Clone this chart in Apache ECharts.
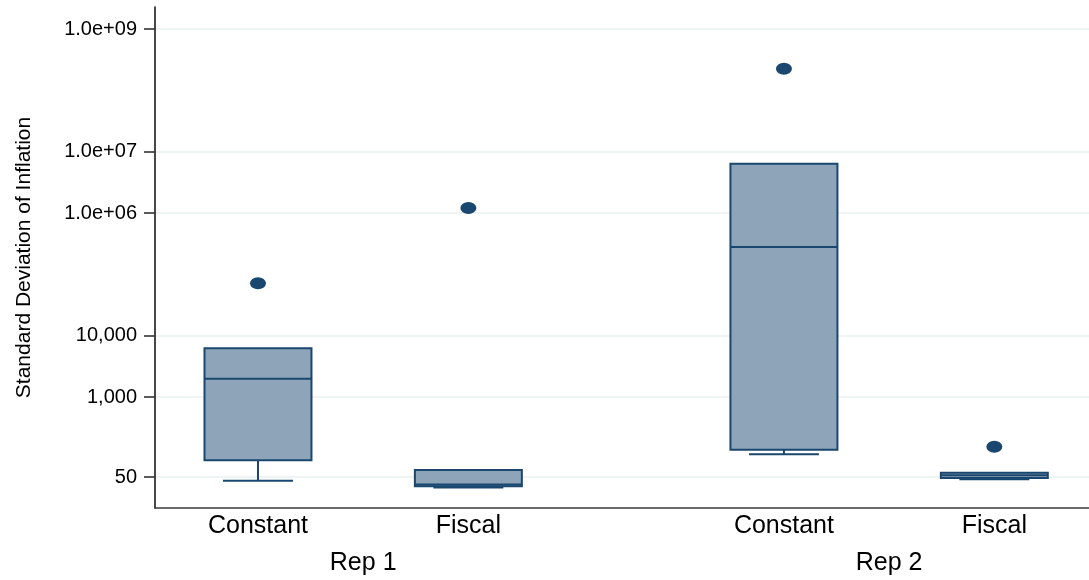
<!DOCTYPE html>
<html>
<head>
<meta charset="utf-8">
<script src="https://cdn.jsdelivr.net/npm/echarts@6/dist/echarts.min.js"></script>
<style>
html,body{margin:0;padding:0;background:#ffffff;}
#chart{width:1089px;height:580px;}
</style>
</head>
<body>
<div id="chart"></div>
<script>
// ---------------- data ----------------
const groups = ['Rep 1', 'Rep 2'];
const treatments = ['Constant', 'Fiscal'];
// five-number summaries: [min, Q1, median, Q3, max]
const rep1Constant = [43.5, 93.5, 2000, 6250, 6250];
const rep1Fiscal = [33.7, 35.4, 37.7, 65, 65];
const rep2Constant = [117, 139, 280000, 6360000, 6360000];
const rep2Fiscal = [46, 48.2, 53.4, 58.7, 58.7];
// outside values
const rep1ConstantOutliers = [71700];
const rep1FiscalOutliers = [1210000];
const rep2ConstantOutliers = [225000000];
const rep2FiscalOutliers = [156];
// y-axis ticks
const yTickValues = [50, 1000, 10000, 1e6, 1e7, 1e9];
const yTickLabels = ['50', '1,000', '10,000', '1.0e+06', '1.0e+07', '1.0e+09'];
const yTitle = 'Standard Deviation of Inflation';

// ---------------- layout / styles ----------------
const NAVY = '#1a476f';
const FILL = '#8ea5b9';
const FONT = '"Liberation Sans", Arial, Helvetica, sans-serif';
const BOX_W = 1.017;   // box width in x units
const CAP_W = 0.665;   // whisker cap width in x units
const X_MIN = -0.979, X_MAX = 7.9;
const Y_MIN = 15.63, Y_MAX = 2.283e9;

const summaries = [[rep1Constant, rep1Fiscal], [rep2Constant, rep2Fiscal]];
const outliers = [[rep1ConstantOutliers, rep1FiscalOutliers], [rep2ConstantOutliers, rep2FiscalOutliers]];

function slot(g, t) { return g * 5 + t * 2; }

const boxData = [];
const outlierData = [];
const slotPositions = [];
const slotLabel = {};
const groupCenters = [];
const groupLabel = {};
groups.forEach(function (gName, g) {
  const c = slot(g, 0) + 1;
  groupCenters.push(c);
  groupLabel[c] = gName;
  treatments.forEach(function (tName, t) {
    const x = slot(g, t);
    slotPositions.push(x);
    slotLabel[x] = tName;
    boxData.push([x].concat(summaries[g][t]));
    outliers[g][t].forEach(function (v) { outlierData.push([x, v]); });
  });
});

function yLabel(v) {
  let best = 0, bd = Infinity;
  yTickValues.forEach(function (tv, i) {
    const d = Math.abs(Math.log10(tv) - Math.log10(v));
    if (d < bd) { bd = d; best = i; }
  });
  return yTickLabels[best];
}
function nearestKey(map, v) {
  let best = null, bd = Infinity;
  Object.keys(map).forEach(function (k) {
    const d = Math.abs(+k - v);
    if (d < bd) { bd = d; best = k; }
  });
  return map[best];
}

function renderBox(params, api) {
  const x = api.value(0);
  const mn = api.value(1), q1 = api.value(2), md = api.value(3), q3 = api.value(4), mx = api.value(5);
  const unit = api.size([1, 0], [x, md])[0];
  const hb = unit * BOX_W / 2, hc = unit * CAP_W / 2;
  const pQ1 = api.coord([x, q1]), pQ3 = api.coord([x, q3]), pMd = api.coord([x, md]);
  const pMn = api.coord([x, mn]), pMx = api.coord([x, mx]);
  const cx = pQ1[0];
  const ls = { stroke: NAVY, lineWidth: 2, fill: null };
  const children = [];
  if (mn < q1) {
    children.push({ type: 'line', shape: { x1: cx, y1: pQ1[1], x2: cx, y2: pMn[1] }, style: ls });
    children.push({ type: 'line', shape: { x1: cx - hc, y1: pMn[1], x2: cx + hc, y2: pMn[1] }, style: ls });
  }
  if (mx > q3) {
    children.push({ type: 'line', shape: { x1: cx, y1: pQ3[1], x2: cx, y2: pMx[1] }, style: ls });
    children.push({ type: 'line', shape: { x1: cx - hc, y1: pMx[1], x2: cx + hc, y2: pMx[1] }, style: ls });
  }
  children.push({ type: 'rect', shape: { x: cx - hb, y: pQ3[1], width: 2 * hb, height: pQ1[1] - pQ3[1] },
    style: { fill: FILL, stroke: NAVY, lineWidth: 2 } });
  children.push({ type: 'line', shape: { x1: cx - hb, y1: pMd[1], x2: cx + hb, y2: pMd[1] }, style: ls });
  return { type: 'group', children: children };
}

const chart = echarts.init(document.getElementById('chart'), null, { renderer: 'canvas' });
chart.setOption({
  animation: false,
  backgroundColor: '#ffffff',
  grid: { left: 155, right: 0, top: 7, bottom: 72, containLabel: false, outerBoundsMode: 'none' },
  xAxis: [{
    type: 'value', min: X_MIN, max: X_MAX, position: 'bottom',
    axisLine: { show: true, onZero: false, lineStyle: { color: '#3a3a3a', width: 1.6 } },
    axisTick: { show: false, customValues: slotPositions },
    splitLine: { show: false },
    axisLabel: {
      customValues: slotPositions, margin: 6, fontSize: 25, color: '#000', fontFamily: FONT,
      formatter: function (v) { return nearestKey(slotLabel, v); }
    }
  }, {
    type: 'value', min: X_MIN, max: X_MAX, position: 'bottom', offset: 37,
    axisLine: { show: false, onZero: false }, axisTick: { show: false, customValues: groupCenters }, splitLine: { show: false },
    axisLabel: {
      customValues: groupCenters, margin: 6, fontSize: 25, color: '#000', fontFamily: FONT,
      formatter: function (v) { return nearestKey(groupLabel, v); }
    }
  }],
  yAxis: {
    type: 'log', logBase: 10, min: Y_MIN, max: Y_MAX,
    name: yTitle, nameLocation: 'middle', nameRotate: 90, nameGap: 120,
    nameTextStyle: { fontSize: 21, color: '#000', fontFamily: FONT },
    axisLine: { show: true, onZero: false, lineStyle: { color: '#1a1a1a', width: 1.6 } },
    axisTick: { show: true, customValues: yTickValues, length: 11, lineStyle: { color: '#333', width: 1.6 } },
    axisLabel: { customValues: yTickValues, margin: 18, fontSize: 20, color: '#000', fontFamily: FONT, formatter: yLabel },
    splitLine: { show: true, lineStyle: { color: '#eaf0f2', width: 1.6 } },
    minorTick: { show: false }, minorSplitLine: { show: false }
  },
  series: [{
    type: 'custom', name: 'box', renderItem: renderBox, data: boxData,
    encode: { x: 0, y: [1, 2, 3, 4, 5] }, z: 2
  }, {
    type: 'scatter', name: 'outside values', data: outlierData,
    symbol: 'circle', symbolSize: [16, 12], itemStyle: { color: NAVY, opacity: 1 }, z: 3
  }]
});
</script>
</body>
</html>
